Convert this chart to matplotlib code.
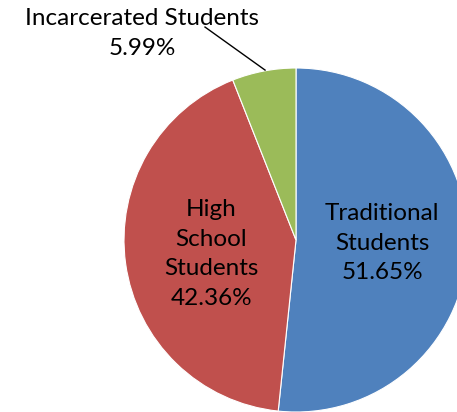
import matplotlib
matplotlib.use('Agg')
import matplotlib.pyplot as plt

labels = ['Traditional\nStudents', 'High\nSchool\nStudents', 'Incarcerated Students']
shares = [51.65, 42.36, 5.99]
colors = ['#4F81BD', '#C0504D', '#9BBB59']

plt.rcParams['font.family'] = ['Lato', 'DejaVu Sans']

fig = plt.figure(figsize=(4.57, 4.12), dpi=100)
ax = fig.add_axes([0, 0, 1, 1])
ax.pie(shares, colors=colors, startangle=90, counterclock=False,
       radius=1, center=(0, 0), wedgeprops=dict(edgecolor='white', linewidth=0.8))
ax.set_xlim(-296 / 172, (457 - 296) / 172)
ax.set_ylim(-(412 - 240) / 172, 240 / 172)
ax.set_aspect('auto')
ax.axis('off')

fs = 17.5
ls = 1.5
ax.text(0.50, -0.02, f'{labels[0]}\n{shares[0]:.2f}%', ha='center', va='center',
        fontsize=fs, linespacing=ls)
ax.text(-0.494, -0.08, f'{labels[1]}\n{shares[1]:.2f}%', ha='center', va='center',
        fontsize=fs, linespacing=ls)
ax.text(-0.895, 1.20, f'{labels[2]}\n{shares[2]:.2f}%', ha='center', va='center',
        fontsize=fs, linespacing=ls)
ax.plot([-0.529, -0.180], [1.238, 0.988], color='black', linewidth=1)

fig.savefig('out.png', dpi=100)
